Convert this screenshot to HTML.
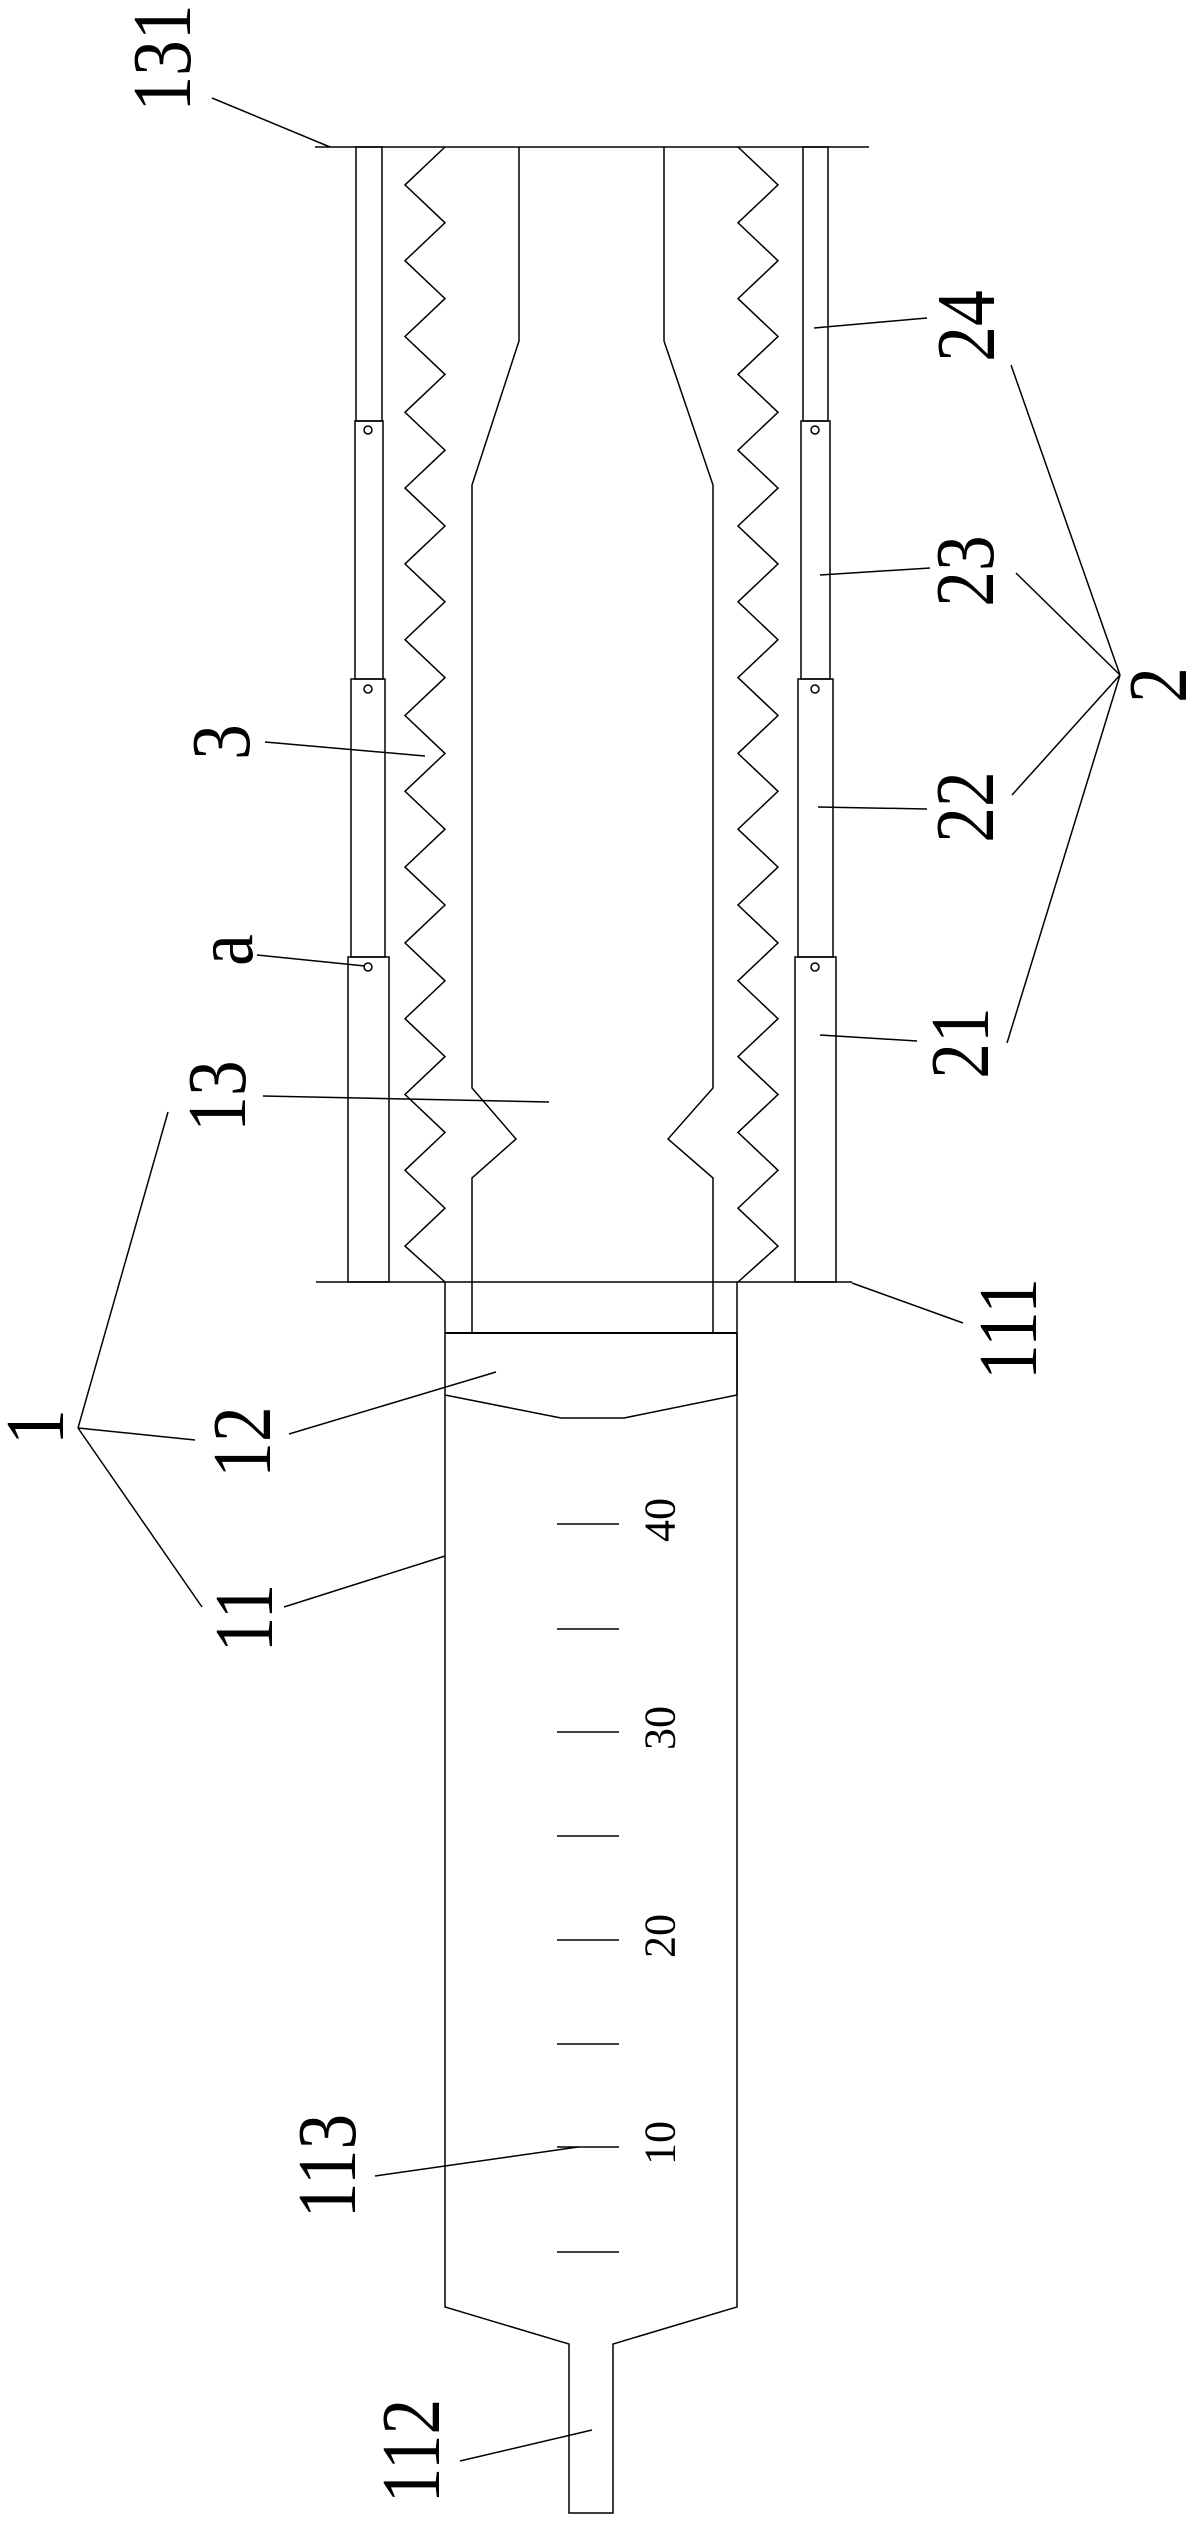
<!DOCTYPE html>
<html><head><meta charset="utf-8"><style>
html,body{margin:0;padding:0;background:#fff}
svg{display:block}
text{font-family:"Liberation Serif","Times New Roman",serif;fill:#000}
</style></head><body>
<svg width="1194" height="2531" viewBox="0 0 1194 2531" xmlns="http://www.w3.org/2000/svg">
<g stroke="#000" stroke-width="1.5" fill="none">
<line x1="315" y1="147" x2="869" y2="147"/>
<line x1="316" y1="1282" x2="852" y2="1282"/>
<rect x="356" y="147" width="26" height="274"/>
<rect x="355" y="421" width="28" height="258"/>
<rect x="351" y="679" width="34" height="278"/>
<rect x="348" y="957" width="41" height="325"/>
<rect x="803" y="147" width="25" height="274"/>
<rect x="801" y="421" width="29" height="258"/>
<rect x="798" y="679" width="35" height="278"/>
<rect x="795" y="957" width="41" height="325"/>
<circle cx="368" cy="430" r="4"/><circle cx="368" cy="689" r="4"/><circle cx="368" cy="967" r="4"/>
<circle cx="815" cy="430" r="4"/><circle cx="815" cy="689" r="4"/><circle cx="815" cy="967" r="4"/>
<polyline points="445,147 405,184.9 445,222.8 405,260.7 445,298.6 405,336.5 445,374.4 405,412.3 445,450.2 405,488.1 445,526 405,563.9 445,601.8 405,639.7 445,677.6 405,715.5 445,753.4 405,791.3 445,829.2 405,867.1 445,905 405,942.9 445,980.8 405,1018.7 445,1056.6 405,1094.5 445,1132.4 405,1170.3 445,1208.2 405,1246.1 445,1282"/>
<polyline points="738,147 778,184.9 738,222.8 778,260.7 738,298.6 778,336.5 738,374.4 778,412.3 738,450.2 778,488.1 738,526 778,563.9 738,601.8 778,639.7 738,677.6 778,715.5 738,753.4 778,791.3 738,829.2 778,867.1 738,905 778,942.9 738,980.8 778,1018.7 738,1056.6 778,1094.5 738,1132.4 778,1170.3 738,1208.2 778,1246.1 738,1282"/>
<polyline points="519,147 519,341 472,485 472,1088 516,1139 472,1178 472,1333"/>
<polyline points="664,147 664,341 713,485 713,1088 668,1139 713,1178 713,1333"/>
<polyline points="445,1282 445,2307 569,2344 569,2513 613,2513 613,2344 737,2307 737,1282"/>
<line x1="445" y1="1333" x2="737" y2="1333" stroke-width="2"/>
<line x1="737" y1="1333" x2="737" y2="1395"/>
<polyline points="445,1395 561,1418 624,1418 737,1395"/>
<line x1="557" y1="1524" x2="619" y2="1524"/>
<line x1="557" y1="1629" x2="619" y2="1629"/>
<line x1="557" y1="1732" x2="619" y2="1732"/>
<line x1="557" y1="1836" x2="619" y2="1836"/>
<line x1="557" y1="1940" x2="619" y2="1940"/>
<line x1="557" y1="2044" x2="619" y2="2044"/>
<line x1="557" y1="2147" x2="619" y2="2147"/>
<line x1="557" y1="2252" x2="619" y2="2252"/>
<line x1="212" y1="98" x2="330" y2="147"/>
<line x1="265" y1="742" x2="425" y2="756"/>
<line x1="257" y1="955" x2="365" y2="966"/>
<line x1="263" y1="1096" x2="549" y2="1102"/>
<line x1="78" y1="1428" x2="168" y2="1112"/>
<line x1="78" y1="1428" x2="195" y2="1440"/>
<line x1="78" y1="1428" x2="202" y2="1607"/>
<line x1="289" y1="1434" x2="496" y2="1372"/>
<line x1="284" y1="1607" x2="445" y2="1556"/>
<line x1="375" y1="2176" x2="578" y2="2147"/>
<line x1="460" y1="2461" x2="592" y2="2430"/>
<line x1="852" y1="1283" x2="963" y2="1323"/>
<line x1="814" y1="328" x2="927" y2="318"/>
<line x1="820" y1="575" x2="930" y2="568"/>
<line x1="818" y1="807" x2="927" y2="809"/>
<line x1="820" y1="1035" x2="917" y2="1041"/>
<line x1="1120" y1="675" x2="1011" y2="365"/>
<line x1="1120" y1="675" x2="1016" y2="573"/>
<line x1="1120" y1="675" x2="1012" y2="795"/>
<line x1="1120" y1="675" x2="1007" y2="1043"/>
</g>
<g font-family="Liberation Serif, serif" font-size="84" text-anchor="middle" dominant-baseline="central">
<text transform="translate(162,58) rotate(-90) scale(0.85,1)">131</text>
<text transform="translate(221,742) rotate(-90) scale(0.85,1)">3</text>
<text transform="translate(224,950) rotate(-90) scale(0.85,1)">a</text>
<text transform="translate(217,1096) rotate(-90) scale(0.85,1)">13</text>
<text transform="translate(35,1427) rotate(-90) scale(0.85,1)">1</text>
<text transform="translate(242,1442) rotate(-90) scale(0.85,1)">12</text>
<text transform="translate(244,1618) rotate(-90) scale(0.85,1)">11</text>
<text transform="translate(327,2166) rotate(-90) scale(0.85,1)">113</text>
<text transform="translate(411,2451) rotate(-90) scale(0.85,1)">112</text>
<text transform="translate(1008,1329) rotate(-90) scale(0.85,1)">111</text>
<text transform="translate(966,326) rotate(-90) scale(0.85,1)">24</text>
<text transform="translate(965,571) rotate(-90) scale(0.85,1)">23</text>
<text transform="translate(965,807) rotate(-90) scale(0.85,1)">22</text>
<text transform="translate(960,1043) rotate(-90) scale(0.85,1)">21</text>
<text transform="translate(1158,685) rotate(-90) scale(0.85,1)">2</text>
</g>
<g font-family="Liberation Serif, serif" font-size="44" text-anchor="middle" dominant-baseline="central">
<text transform="translate(660,1520) rotate(-90)">40</text>
<text transform="translate(660,1728) rotate(-90)">30</text>
<text transform="translate(660,1936) rotate(-90)">20</text>
<text transform="translate(660,2143) rotate(-90)">10</text>
</g>
</svg>
</body></html>
